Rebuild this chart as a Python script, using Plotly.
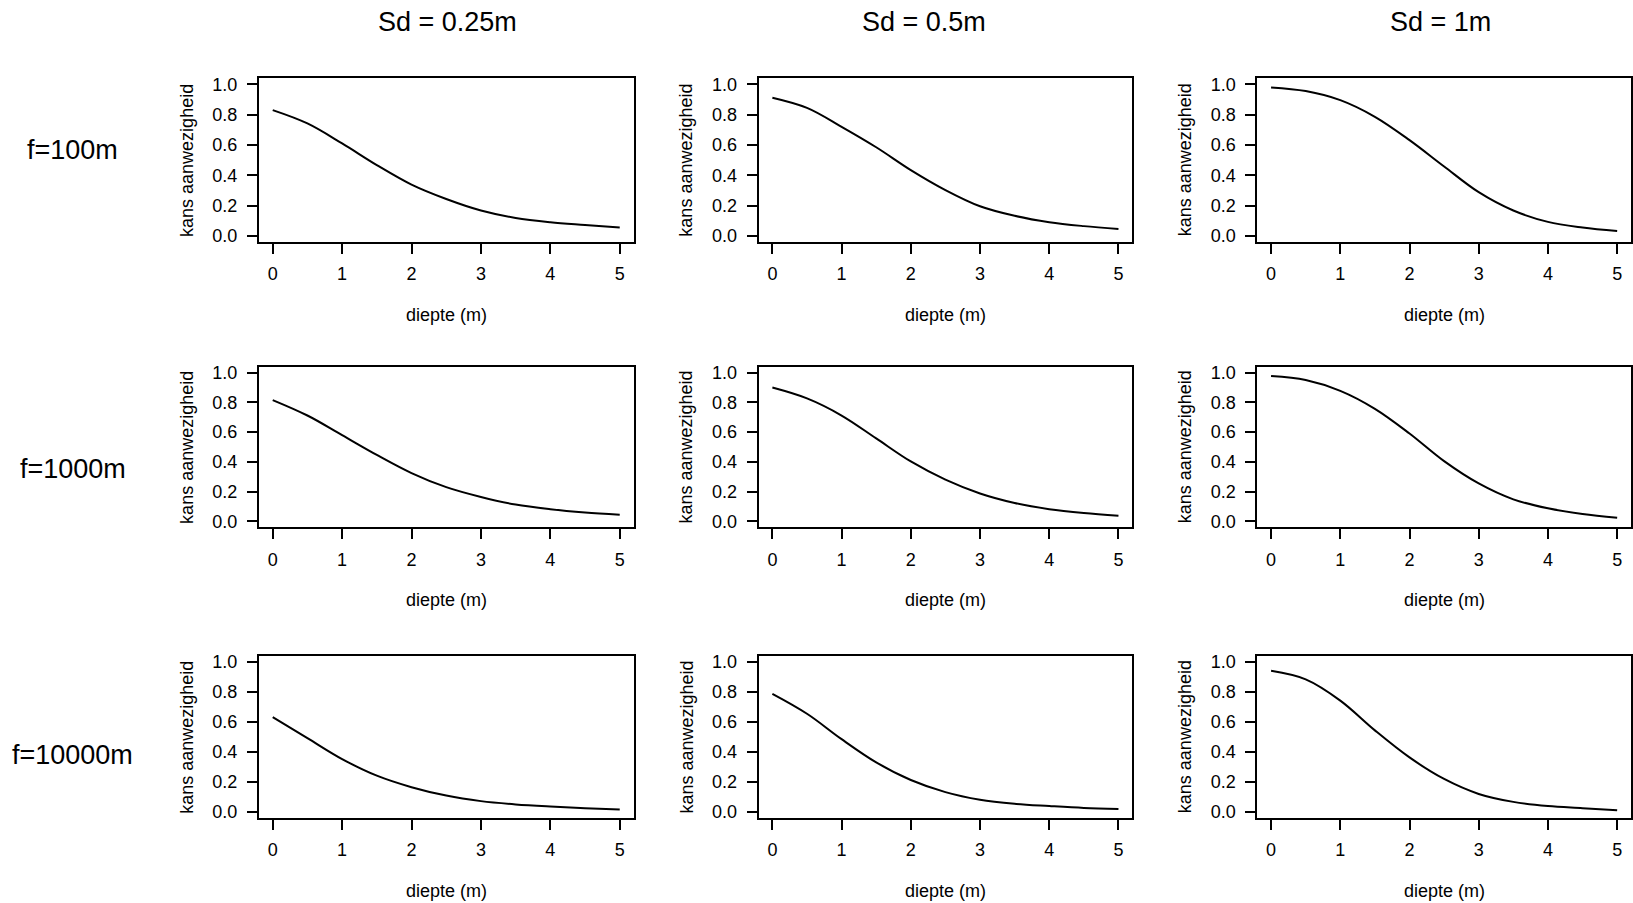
import plotly.graph_objects as go

# depth values (m)
depth = [0, 0.5, 1, 1.5, 2, 2.5, 3, 3.5, 4, 4.5, 5]

# probability of presence, rows = f, columns = Sd
p_f100_sd025 = [0.830, 0.742, 0.610, 0.467, 0.338, 0.243, 0.167, 0.118, 0.090, 0.072, 0.055]
p_f100_sd05 = [0.912, 0.845, 0.720, 0.585, 0.434, 0.302, 0.195, 0.132, 0.090, 0.064, 0.045]
p_f100_sd1 = [0.980, 0.956, 0.896, 0.786, 0.632, 0.458, 0.288, 0.167, 0.092, 0.055, 0.032]
p_f1000_sd025 = [0.816, 0.712, 0.580, 0.447, 0.325, 0.230, 0.164, 0.113, 0.082, 0.060, 0.045]
p_f1000_sd05 = [0.900, 0.827, 0.712, 0.558, 0.403, 0.281, 0.188, 0.124, 0.082, 0.056, 0.038]
p_f1000_sd1 = [0.978, 0.951, 0.878, 0.757, 0.591, 0.405, 0.255, 0.148, 0.088, 0.050, 0.025]
p_f10000_sd025 = [0.633, 0.492, 0.352, 0.241, 0.164, 0.108, 0.071, 0.049, 0.035, 0.024, 0.015]
p_f10000_sd05 = [0.788, 0.655, 0.485, 0.330, 0.212, 0.131, 0.080, 0.053, 0.038, 0.025, 0.018]
p_f10000_sd1 = [0.942, 0.885, 0.743, 0.544, 0.363, 0.219, 0.119, 0.066, 0.038, 0.024, 0.010]

col_titles = ["Sd = 0.25m", "Sd = 0.5m", "Sd = 1m"]
row_titles = ["f=100m", "f=1000m", "f=10000m"]
x_ticks = [0, 1, 2, 3, 4, 5]
y_ticks = [0, 0.2, 0.4, 0.6, 0.8, 1.0]
y_ticktext = ["0.0", "0.2", "0.4", "0.6", "0.8", "1.0"]
x_title = "diepte (m)"
y_title = "kans aanwezigheid"

series = [
    [p_f100_sd025, p_f100_sd05, p_f100_sd1],
    [p_f1000_sd025, p_f1000_sd05, p_f1000_sd1],
    [p_f10000_sd025, p_f10000_sd05, p_f10000_sd1],
]

W, H = 1633, 903
col_px = [(259, 634), (759, 1133), (1258, 1632)]
row_px = [(75, 240), (366, 528), (658, 821)]
col_title_x = [448, 925, 1441]
col_title_y = 18
row_title_x = 73
row_title_y = [147, 469, 758]

FONT = "Liberation Sans, Arial, sans-serif"
fig = go.Figure()
layout = dict(
    width=W, height=H, margin=dict(l=0, r=0, t=0, b=0),
    paper_bgcolor="white", plot_bgcolor="white", showlegend=False,
    font=dict(family=FONT, color="black", size=18),
)
annotations = []
n = 0
for r in range(3):
    for c in range(3):
        n += 1
        xa = "xaxis" if n == 1 else f"xaxis{n}"
        ya = "yaxis" if n == 1 else f"yaxis{n}"
        xr = "x" if n == 1 else f"x{n}"
        yr = "y" if n == 1 else f"y{n}"
        fig.add_trace(go.Scatter(
            x=depth, y=series[r][c], mode="lines", xaxis=xr, yaxis=yr,
            line=dict(color="black", width=2, shape="spline", smoothing=1.0),
            hoverinfo="skip"))
        x0, x1 = col_px[c]
        y0, y1 = row_px[r]
        common = dict(showline=True, mirror=True, linecolor="black", linewidth=1.8,
                      ticks="outside", tickwidth=1.8, tickcolor="black",
                      showgrid=False, zeroline=False, fixedrange=True,
                      tickfont=dict(family=FONT, size=18, color="black"))
        layout[xa] = dict(domain=[x0 / W, x1 / W], anchor=yr, range=[-0.2, 5.2],
                          tickvals=x_ticks, ticklen=10, ticklabelstandoff=5, **common)
        layout[ya] = dict(domain=[1 - y1 / H, 1 - y0 / H], anchor=xr, range=[-0.04, 1.04],
                          tickvals=y_ticks, ticktext=y_ticktext, ticklen=10,
                          ticklabelstandoff=6, **common)
        annotations.append(dict(text=x_title, xref=f"{xr} domain", yref=f"{yr} domain",
                                x=0.5, y=0, yshift=-73, xanchor="center", yanchor="middle",
                                showarrow=False, font=dict(size=18)))
        annotations.append(dict(text=y_title, xref=f"{xr} domain", yref=f"{yr} domain",
                                x=0, y=0.5, xshift=-72, xanchor="center", yanchor="middle",
                                textangle=-90, showarrow=False, font=dict(size=18)))

for c in range(3):
    annotations.append(dict(text=col_titles[c], xref="paper", yref="paper",
                            x=col_title_x[c] / W, y=1 - col_title_y / H,
                            xanchor="center", yanchor="middle", showarrow=False,
                            font=dict(size=27)))
for r in range(3):
    annotations.append(dict(text=row_titles[r], xref="paper", yref="paper",
                            x=row_title_x / W, y=1 - row_title_y[r] / H,
                            xanchor="center", yanchor="middle", showarrow=False,
                            font=dict(size=27)))

layout["annotations"] = annotations
fig.update_layout(**layout)
fig.write_html(
    "out.html",
    config={"displayModeBar": False},
    post_script="document.body.style.margin='0';document.body.style.overflow='hidden';",
)
